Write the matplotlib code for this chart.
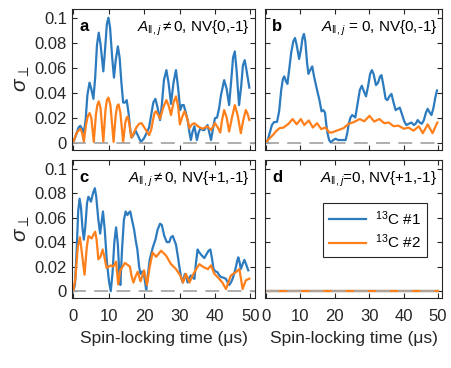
import matplotlib
matplotlib.use("Agg")
import matplotlib.pyplot as plt

# --------------------------------------------------
# DATA
# --------------------------------------------------
# panel a : A_par != 0, NV{0,-1}
a_c1_t = [0, 0.8, 1.5, 2.0, 2.5, 3.0, 3.5, 4.0, 4.6, 5.1, 5.7, 6.2, 6.7, 7.2, 7.7, 8.5, 9.0,
          9.5, 9.95, 10.4, 11.0, 11.5, 12.0, 12.6, 13.1, 13.6, 14.1, 14.6, 15.1, 15.6, 16.1,
          16.5, 17.0, 17.6, 18.2, 19.1, 19.9, 20.7, 21.4, 22.0, 22.6, 23.2, 23.8, 24.5, 25.0,
          25.6, 26.3, 26.9, 27.6, 28.3, 29.0, 29.6, 30.2, 30.7, 31.2, 32.3, 32.8, 33.2, 33.7,
          34.2, 34.6, 34.9, 35.4, 35.9, 36.5, 37.0, 37.9, 38.4, 38.9, 39.5, 40.0, 40.6, 41.2,
          41.7, 42.6, 43.3, 44.0, 44.6, 45.1, 45.6, 46.1, 46.8, 47.4, 47.9, 48.4, 48.9, 49.7]
a_c1_v = [0, 0.006, 0.012, 0.0134, 0.011, 0.0075, 0.018, 0.038, 0.048, 0.043, 0.035, 0.052,
          0.078, 0.088, 0.079, 0.057, 0.075, 0.095, 0.1, 0.092, 0.068, 0.052, 0.066, 0.077,
          0.068, 0.048, 0.032, 0.032, 0.034, 0.024, 0.01, 0.004, 0.006, 0.0095, 0.006, 0.0005,
          0.003, 0.0075, 0.012, 0.022, 0.032, 0.035, 0.028, 0.018, 0.03, 0.05, 0.058, 0.048,
          0.031, 0.048, 0.058, 0.044, 0.026, 0.03, 0.03, 0.018, 0.008, 0.002, 0.009, 0.013,
          0.007, 0.002, 0.008, 0.0115, 0.01, 0.01, 0.014, 0.008, 0.002, 0.012, 0.0195, 0.02,
          0.028, 0.038, 0.05, 0.043, 0.03, 0.05, 0.068, 0.073, 0.058, 0.03, 0.045, 0.062, 0.066,
          0.058, 0.044]
a_c2_t = [0, 1.0, 2.0, 2.5, 3.0, 3.6, 4.1, 4.6, 5.1, 5.8, 6.4, 6.8, 7.2, 7.7, 8.5, 9.1, 9.5,
          9.95, 10.5, 11.4, 12.0, 12.4, 12.8, 13.3, 14.1, 14.7, 15.1, 15.4, 15.9, 16.4, 17.0,
          17.8, 18.6, 19.3, 20.3, 21.4, 22.0, 22.5, 23.0, 23.4, 24.0, 24.5, 25.4, 26.3, 27.0,
          27.6, 28.3, 29.0, 29.6, 30.1, 30.7, 31.4, 32.1, 32.8, 33.5, 34.2, 35.3, 36.5, 37.2,
          37.9, 38.9, 39.5, 40.0, 40.8, 41.5, 42.0, 42.6, 43.3, 44.0, 44.8, 45.6, 46.4, 47.3,
          48.0, 48.7, 49.2, 49.7]
a_c2_v = [0, 0.008, 0.011, 0.008, 0.0005, 0.014, 0.021, 0.0236, 0.02, 0.0005, 0.022, 0.03,
          0.033, 0.028, 0.0005, 0.026, 0.034, 0.036, 0.03, 0.0005, 0.022, 0.029, 0.0306, 0.024,
          0.0005, 0.016, 0.02, 0.0207, 0.014, 0.004, 0.007, 0.012, 0.015, 0.0155, 0.011, 0.006,
          0.01, 0.018, 0.024, 0.025, 0.022, 0.019, 0.028, 0.034, 0.029, 0.022, 0.032, 0.037,
          0.029, 0.0145, 0.02, 0.025, 0.02, 0.0115, 0.0145, 0.0155, 0.0128, 0.011, 0.012, 0.0128,
          0.01, 0.013, 0.0155, 0.012, 0.008, 0.018, 0.026, 0.02, 0.0088, 0.02, 0.03, 0.022,
          0.0075, 0.018, 0.026, 0.023, 0.018]

# panel b : A_par = 0, NV{0,-1}
b_c1_t = [0, 0.5, 1.2, 1.8, 2.4, 3.3, 3.9, 4.5, 5.0, 5.4, 5.9, 6.3, 6.8, 7.4, 8.0, 8.5, 9.0,
          9.7, 10.2, 10.7, 11.1, 11.5, 12.0, 12.4, 12.9, 13.5, 14.1, 15.0, 15.6, 16.2, 16.7,
          17.2, 17.6, 17.9, 18.4, 18.9, 19.6, 20.3, 21.0, 21.8, 22.5, 23.2, 23.7, 24.1, 24.6,
          25.1, 25.6, 26.0, 26.6, 27.3, 27.9, 28.5, 29.1, 29.7, 30.3, 30.8, 31.3, 32.0, 32.6,
          33.2, 33.6, 34.2, 34.8, 35.3, 35.9, 36.5, 37.1, 37.7, 38.3, 38.9, 39.5, 40.2, 40.8,
          41.5, 42.3, 43.0, 43.5, 44.1, 44.7, 45.3, 45.9, 46.5, 47.0, 47.6, 48.1, 48.7, 49.2,
          49.7]
b_c1_v = [0, 0.001, 0.008, 0.014, 0.0163, 0.0166, 0.025, 0.042, 0.051, 0.053, 0.049, 0.047,
          0.058, 0.072, 0.081, 0.0838, 0.078, 0.067, 0.074, 0.084, 0.087, 0.081, 0.064, 0.055,
          0.058, 0.061, 0.052, 0.041, 0.034, 0.025, 0.026, 0.024, 0.014, 0.008, 0.002, 0.0,
          0.002, 0.003, 0.002, 0.002, 0.002, 0.002, 0.008, 0.015, 0.02, 0.022, 0.021, 0.02,
          0.03, 0.042, 0.0455, 0.041, 0.037, 0.045, 0.055, 0.058, 0.055, 0.046, 0.048, 0.053,
          0.054, 0.045, 0.035, 0.034, 0.037, 0.039, 0.032, 0.026, 0.027, 0.028, 0.023, 0.017,
          0.014, 0.015, 0.016, 0.014, 0.015, 0.018, 0.016, 0.015, 0.018, 0.024, 0.027, 0.024,
          0.022, 0.028, 0.036, 0.0417]
b_c2_t = [0, 1.0, 2.1, 3.0, 4.0, 5.2, 6.6, 7.8, 9.0, 10.2, 11.2, 12.5, 13.7, 14.9, 16.1, 17.3,
          18.5, 19.3, 20.7, 22.6, 24.1, 25.5, 27.3, 28.6, 30.1, 31.5, 33.0, 34.4, 35.7, 37.1,
          38.5, 40.1, 41.4, 42.9, 44.4, 45.6, 47.0, 48.4, 49.8]
b_c2_v = [0, 0.003, 0.006, 0.009, 0.0115, 0.012, 0.015, 0.0188, 0.0146, 0.0188, 0.014, 0.0177,
          0.012, 0.0155, 0.0108, 0.012, 0.008, 0.0081, 0.0096, 0.0115, 0.015, 0.0163, 0.0188,
          0.017, 0.0214, 0.0168, 0.0188, 0.0155, 0.016, 0.0131, 0.0135, 0.011, 0.012, 0.0095,
          0.013, 0.0075, 0.0145, 0.0075, 0.016]

# panel c : A_par != 0, NV{+1,-1}
c_c1_t = [0, 0.5, 1.0, 1.4, 1.8, 2.2, 2.6, 3.0, 3.4, 3.9, 4.3, 4.7, 5.0, 5.6, 6.1, 6.5, 7.1,
          7.6, 8.0, 8.4, 8.9, 9.5, 10.1, 10.6, 11.1, 11.6, 12.1, 12.6, 13.0, 13.3, 13.8, 14.3,
          14.8, 15.3, 15.7, 16.1, 16.6, 17.2, 17.6, 18.1, 18.6, 19.0, 19.4, 19.9, 20.3, 20.6,
          21.1, 21.6, 22.5, 23.2, 23.8, 24.5, 25.0, 25.7, 26.4, 27.1, 27.6, 28.1, 28.6, 29.0,
          29.5, 29.9, 30.4, 30.9, 31.5, 32.0, 32.3, 32.8, 33.2, 33.7, 34.2, 34.6, 35.1, 35.5,
          36.0, 37.0, 37.6, 38.2, 38.7, 39.2, 39.6, 40.2, 40.7, 41.2, 41.7, 42.4, 43.1, 43.6,
          44.0, 44.5, 45.0, 45.5, 45.9, 46.3, 46.6, 47.0, 47.3, 47.8, 48.3, 48.9, 49.4]
c_c1_v = [0, 0.005, 0.035, 0.065, 0.0755, 0.068, 0.052, 0.042, 0.052, 0.072, 0.077, 0.075,
          0.073, 0.08, 0.084, 0.077, 0.058, 0.047, 0.056, 0.065, 0.05, 0.024, 0.008, 0.0, 0.015,
          0.04, 0.052, 0.038, 0.015, 0.005, 0.035, 0.058, 0.065, 0.062, 0.064, 0.065, 0.058,
          0.05, 0.042, 0.034, 0.02, 0.014, 0.016, 0.015, 0.007, 0.001, 0.014, 0.026, 0.036,
          0.042, 0.05, 0.055, 0.054, 0.045, 0.04, 0.04, 0.044, 0.045, 0.041, 0.038, 0.029, 0.021,
          0.012, 0.007, 0.014, 0.01, 0.007, 0.011, 0.0128, 0.011, 0.01, 0.022, 0.034, 0.032,
          0.03, 0.027, 0.03, 0.033, 0.034, 0.026, 0.018, 0.016, 0.0155, 0.013, 0.0115, 0.011,
          0.01, 0.007, 0.005, 0.007, 0.0102, 0.015, 0.0196, 0.025, 0.0276, 0.023, 0.018, 0.022,
          0.0255, 0.021, 0.017]
c_c2_t = [0, 0.6, 1.3, 1.9, 2.5, 3.2, 3.8, 4.3, 5.2, 5.7, 6.2, 6.6, 7.1, 7.7, 8.3, 8.8, 9.4,
          10.6, 11.3, 12.1, 12.7, 13.3, 14.6, 16.0, 16.5, 17.0, 17.6, 18.2, 19.0, 20.0, 20.8,
          21.6, 22.4, 23.4, 24.8, 26.2, 27.6, 29.0, 30.2, 31.0, 31.8, 32.8, 33.7, 34.7, 35.6,
          36.8, 38.0, 38.9, 39.8, 40.9, 42.1, 43.1, 44.5, 45.9, 46.9, 47.8, 48.7, 49.7]
c_c2_v = [0, 0.01, 0.036, 0.044, 0.03, 0.0134, 0.035, 0.045, 0.043, 0.046, 0.0485, 0.042,
          0.026, 0.028, 0.034, 0.028, 0.019, 0.021, 0.02, 0.024, 0.0055, 0.017, 0.023, 0.02,
          0.012, 0.007, 0.012, 0.0158, 0.008, 0.017, 0.005, 0.02, 0.0315, 0.028, 0.033, 0.029,
          0.022, 0.018, 0.0128, 0.007, 0.0142, 0.007, 0.0128, 0.018, 0.022, 0.0195, 0.018, 0.021,
          0.0142, 0.011, 0.007, 0.0017, 0.0128, 0.0155, 0.018, 0.0017, 0.0088, 0.0102]

# panel d : A_par = 0, NV{+1,-1} -> both stay at zero
d_c1_t = [0, 50]
d_c1_v = [0, 0]
d_c2_t = [0, 50]
d_c2_v = [0, 0]

panel_tags = ["a", "b", "c", "d"]
panel_notes = [r"$A_{\Vert,j}\neq$0, NV{0,-1}",
               r"$A_{\Vert,j}$ = 0, NV{0,-1}",
               r"$A_{\Vert,j}\neq$0, NV{+1,-1}",
               r"$A_{\Vert,j}$=0, NV{+1,-1}"]
series_names = [r"$^{13}$C #1", r"$^{13}$C #2"]
x_ticks = [0, 10, 20, 30, 40, 50]
y_ticks = [0, 0.02, 0.04, 0.06, 0.08, 0.1]
y_tick_labels = ["0", "0.02", "0.04", "0.06", "0.08", "0.1"]

# --------------------------------------------------
# STYLE
# --------------------------------------------------
plt.rcParams["font.family"] = ["Liberation Sans", "DejaVu Sans"]
plt.rcParams["mathtext.fontset"] = "custom"
plt.rcParams["mathtext.rm"] = "Liberation Sans"
plt.rcParams["mathtext.it"] = "Liberation Sans:italic"
plt.rcParams["lines.scale_dashes"] = False

BLUE = "#2d7bbf"
ORANGE = "#ff7f1a"
GREY = "#a8a8a8"
INK = "#262626"

# --------------------------------------------------
# PLOT
# --------------------------------------------------
fig = plt.figure(figsize=(4.52, 3.68), dpi=100)
W, H = 452.0, 368.0
rects = [(72.5, 9, 255, 149.5), (265, 9, 442.5, 149.5),
         (72.5, 160, 255, 298), (265, 160, 442.5, 298)]
data = [(a_c1_t, a_c1_v, a_c2_t, a_c2_v), (b_c1_t, b_c1_v, b_c2_t, b_c2_v),
        (c_c1_t, c_c1_v, c_c2_t, c_c2_v), (d_c1_t, d_c1_v, d_c2_t, d_c2_v)]

axes = []
for i, (l, t, r, b) in enumerate(rects):
    ax = fig.add_axes([l / W, 1 - b / H, (r - l) / W, (b - t) / H])
    t1, v1, t2, v2 = data[i]
    ax.plot(t1, v1, color=BLUE, lw=1.6, label=series_names[0], solid_joinstyle="round")
    ax.plot(t2, v2, color=ORANGE, lw=1.6, label=series_names[1], solid_joinstyle="round")
    ax.axhline(0, color=GREY, lw=1.3, dashes=(10, 6))

    ax.set_xlim(-0.2, 51.3)
    ax.set_ylim(-0.0056, 0.107)
    ax.set_xticks(x_ticks)
    ax.set_yticks(y_ticks)
    ax.tick_params(direction="in", top=True, right=True, length=3.5, width=0.8,
                   labelsize=12, colors=INK, pad=4)
    ax.tick_params(axis="x", pad=8)
    for s in ax.spines.values():
        s.set_linewidth(0.8)
        s.set_color(INK)

    if i % 2 == 0:
        ax.set_yticklabels(y_tick_labels)
        ax.set_ylabel(r"$\sigma_\perp$", fontsize=15, color=INK, labelpad=2)
    else:
        ax.set_yticklabels([])
    if i < 2:
        ax.set_xticklabels([])
    else:
        ax.set_xlabel("Spin-locking time (\u03bcs)", fontsize=12.5, color=INK, labelpad=5)

    ax.text(0.04, 0.93, panel_tags[i], transform=ax.transAxes, fontsize=12,
            fontweight="bold", va="top", ha="left", color="black")
    ax.text(0.97, 0.93, panel_notes[i], transform=ax.transAxes, fontsize=11,
            va="top", ha="right", color="black")
    axes.append(ax)

leg = axes[3].legend(loc="center right", bbox_to_anchor=(0.955, 0.493), fontsize=11,
                     fancybox=False, framealpha=1, edgecolor=INK, handlelength=2.4,
                     borderpad=0.4, labelspacing=0.3, handletextpad=0.6)
leg.get_frame().set_linewidth(0.8)

fig.savefig("out.png", dpi=100)
